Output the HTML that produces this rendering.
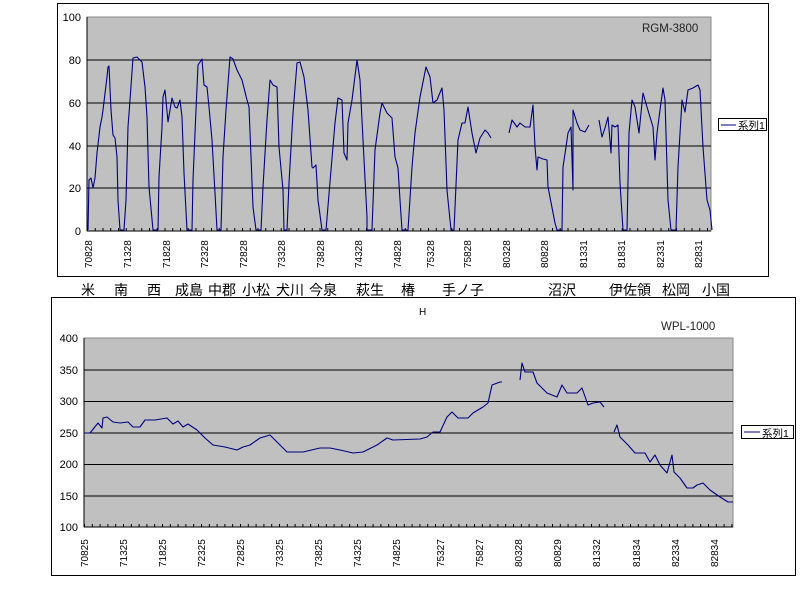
<!DOCTYPE html>
<html><head><meta charset="utf-8"><style>
body{margin:0;background:#fff;}
svg{display:block;font-family:"Liberation Sans","Noto Sans CJK JP",sans-serif;}
</style></head><body>
<svg width="800" height="600" viewBox="0 0 800 600">
<defs>
<pattern id="tk" x="87" y="0" width="7.75" height="600" patternUnits="userSpaceOnUse"><line x1="0.5" y1="0" x2="0.5" y2="600" stroke="#000"/></pattern>
<pattern id="tk2" x="84" y="0" width="7.8" height="600" patternUnits="userSpaceOnUse"><line x1="0.5" y1="0" x2="0.5" y2="600" stroke="#000"/></pattern>
</defs>
<!-- top chart -->
<rect x="57.5" y="3.5" width="711" height="273" fill="#fff" stroke="#000"/>
<rect x="87" y="17" width="624" height="214" fill="#c0c0c0" stroke="#888"/>
<g stroke="#000" stroke-width="1">
<line x1="87" y1="60" x2="711" y2="60"/><line x1="87" y1="103" x2="711" y2="103"/>
<line x1="87" y1="146" x2="711" y2="146"/><line x1="87" y1="188" x2="711" y2="188"/>
<line x1="87" y1="17" x2="87" y2="231"/><line x1="87" y1="231" x2="711" y2="231"/>
</g>
<rect x="87" y="228" width="624" height="3" fill="url(#tk)"/>
<g font-size="11" text-anchor="end" fill="#000">
<text x="81" y="21">100</text><text x="81" y="64">80</text><text x="81" y="107">60</text><text x="81" y="150">40</text><text x="81" y="192">20</text><text x="81" y="235">0</text>
</g>
<g font-size="10" fill="#000">
<text transform="translate(92,268) rotate(-90)">70828</text>
<text transform="translate(131,268) rotate(-90)">71328</text>
<text transform="translate(170,268) rotate(-90)">71828</text>
<text transform="translate(208,268) rotate(-90)">72328</text>
<text transform="translate(247,268) rotate(-90)">72828</text>
<text transform="translate(285,268) rotate(-90)">73328</text>
<text transform="translate(324,268) rotate(-90)">73828</text>
<text transform="translate(362,268) rotate(-90)">74328</text>
<text transform="translate(401,268) rotate(-90)">74828</text>
<text transform="translate(434,268) rotate(-90)">75328</text>
<text transform="translate(471,268) rotate(-90)">75828</text>
<text transform="translate(510,268) rotate(-90)">80328</text>
<text transform="translate(548,268) rotate(-90)">80828</text>
<text transform="translate(587,268) rotate(-90)">81331</text>
<text transform="translate(625,268) rotate(-90)">81831</text>
<text transform="translate(664,268) rotate(-90)">82331</text>
<text transform="translate(702,268) rotate(-90)">82831</text>
</g>
<text x="642" y="32" font-size="11.5" fill="#222">RGM-3800</text>
<rect x="718.5" y="118.5" width="48" height="12" fill="#fff" stroke="#000"/>
<line x1="721" y1="125" x2="736" y2="125" stroke="#000080"/>
<text x="738" y="129" font-size="10.5">系列1</text>
<g fill="none" stroke="#000080" stroke-width="1.1" stroke-linejoin="round">
<polyline points="88,230 89,180 91,178 93,188 95,178 97,153 100,127 102,117 103,110 107,77 108,67 109,66 111,110 113,135 115,138 117,157 118,200 120,230 124,230 126,200 128,127 130,100 133,58 137,57 142,62 145,87 147,117 149,187 153,230 158,230 159,177 162,127 163,97 165,90 168,122 170,110 172,98 175,107 177,108 180,100 182,117 184,173 187,230 192,230 193,180 196,110 198,65 202,59 204,85 207,87 209,107 212,140 215,193 217,230 221,230 223,157 226,110 230,57 233,59 237,70 242,80 247,100 249,107 251,157 253,207 256,230 261,230 263,187 267,120 270,80 273,85 277,87 279,147 283,190 284,230 287,230 289,183 293,113 297,63 300,62 304,77 308,110 312,167 313,168 316,165 318,200 322,230 326,230 330,182 335,123 338,98 342,100 344,153 347,160 348,123 352,100 357,60 360,80 363,140 367,217 367,230 372,230 375,150 380,113 382,103 387,113 392,118 395,157 398,168 400,200 402,230 408,230 412,167 415,133 420,97 426,67 430,77 433,103 437,100 439,95 442,88 444,110 447,190 451,230 454,230 458,140 462,123 465,123 468,107 472,133 476,153 480,138 485,130 488,133 491,138"/>
<polyline points="509,133 512,120 517,127 520,123 525,127 530,127 533,105 535,147 537,170 538,157 543,159 547,160 548,187 555,223 557,230 562,230 563,167 566,147 568,133 571,127 573,190 573,110 577,123 580,130 585,132 589,125"/>
<polyline points="599,120 602,137 605,128 608,117 611,153 612,125 615,127 618,125 620,183 623,230 627,230 629,133 632,100 635,107 639,133 643,93 647,107 653,127 655,160 657,133 660,110 663,88 665,100 668,200 671,230 676,230 678,167 682,100 685,112 688,90 693,88 698,85 700,90 703,147 707,200 710,210 712,230"/>
</g>
<!-- station names -->
<g font-size="14" fill="#000">
<text x="81" y="295">米</text><text x="114" y="295">南</text><text x="147" y="295">西</text>
<text x="175" y="295">成島</text><text x="208" y="295">中郡</text><text x="242" y="295">小松</text>
<text x="276" y="295">犬川</text><text x="309" y="295">今泉</text><text x="356" y="295">萩生</text>
<text x="401" y="295">椿</text><text x="442" y="295">手ノ子</text><text x="548" y="295">沼沢</text>
<text x="609" y="295">伊佐領</text><text x="662" y="295">松岡</text><text x="702" y="295">小国</text>
</g>
<!-- bottom chart -->
<rect x="51.5" y="297.5" width="744" height="278" fill="#fff" stroke="#000"/>
<rect x="84" y="338" width="649" height="189" fill="#c0c0c0" stroke="#888"/>
<g stroke="#000" stroke-width="1">
<line x1="84" y1="370" x2="733" y2="370"/><line x1="84" y1="401.5" x2="733" y2="401.5"/>
<line x1="84" y1="433" x2="733" y2="433"/><line x1="84" y1="464.5" x2="733" y2="464.5"/>
<line x1="84" y1="496" x2="733" y2="496"/>
<line x1="84" y1="338" x2="84" y2="527"/><line x1="84" y1="527" x2="733" y2="527"/>
</g>
<rect x="84" y="524" width="649" height="3" fill="url(#tk2)"/>
<g font-size="11" text-anchor="end">
<text x="78" y="342">400</text><text x="78" y="374">350</text><text x="78" y="405">300</text><text x="78" y="437">250</text><text x="78" y="468">200</text><text x="78" y="500">150</text><text x="78" y="531">100</text>
</g>
<g font-size="10">
<text transform="translate(88,567) rotate(-90)">70825</text>
<text transform="translate(127,567) rotate(-90)">71325</text>
<text transform="translate(166,567) rotate(-90)">71825</text>
<text transform="translate(205,567) rotate(-90)">72325</text>
<text transform="translate(244,567) rotate(-90)">72825</text>
<text transform="translate(283,567) rotate(-90)">73325</text>
<text transform="translate(322,567) rotate(-90)">73825</text>
<text transform="translate(361,567) rotate(-90)">74325</text>
<text transform="translate(400,567) rotate(-90)">74825</text>
<text transform="translate(444,567) rotate(-90)">75327</text>
<text transform="translate(483,567) rotate(-90)">75827</text>
<text transform="translate(522,567) rotate(-90)">80328</text>
<text transform="translate(561,567) rotate(-90)">80829</text>
<text transform="translate(600,567) rotate(-90)">81332</text>
<text transform="translate(640,567) rotate(-90)">81834</text>
<text transform="translate(679,567) rotate(-90)">82334</text>
<text transform="translate(718,567) rotate(-90)">82834</text>
</g>
<text x="419" y="315" font-size="10">H</text>
<text x="661" y="330" font-size="11.5" fill="#222">WPL-1000</text>
<rect x="741.5" y="425.5" width="52" height="13" fill="#fff" stroke="#000"/>
<line x1="744" y1="432" x2="760" y2="432" stroke="#000080"/>
<text x="762" y="437" font-size="10.5">系列1</text>
<g fill="none" stroke="#000080" stroke-width="1.1" stroke-linejoin="round">
<polyline points="84,433 90,433 98,423 102,428 103,418 107,417 113,422 120,423 128,422 133,427 140,427 145,420 155,420 167,418 173,424 178,421 183,427 188,424 197,430 205,438 213,445 225,447 237,450 243,447 250,445 260,438 270,435 277,442 287,452 303,452 320,448 330,448 340,450 353,453 363,452 377,445 387,438 393,440 420,439 427,437 433,432 440,432 447,417 452,412 458,418 468,418 473,413 483,407 488,403 492,385 500,382 502,382"/>
<polyline points="520,380 522,363 525,372 533,372 537,383 547,393 557,397 562,385 567,393 577,393 582,388 588,405 593,403 600,402 604,407"/>
<polyline points="614,432 617,425 620,437 628,445 635,453 645,453 650,462 655,455 660,465 667,473 672,455 674,472 680,478 687,488 693,488 697,485 703,483 710,490 720,497 728,502 733,502"/>
</g>
</svg>
</body></html>
